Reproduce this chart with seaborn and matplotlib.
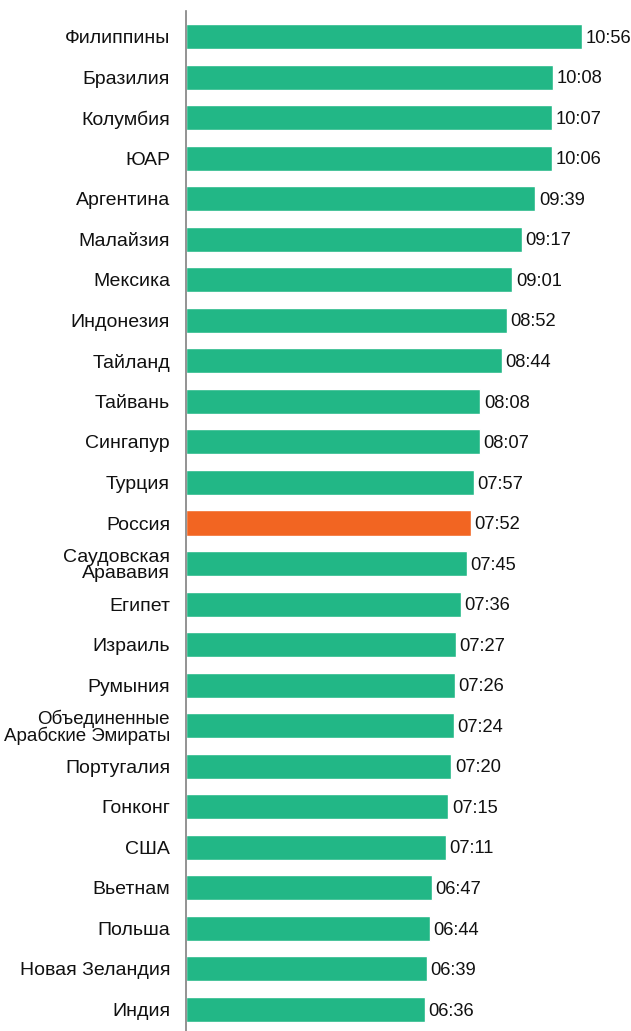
import matplotlib
matplotlib.use("Agg")
import matplotlib.pyplot as plt
import seaborn as sns
import pandas as pd

countries = ["Филиппины", "Бразилия", "Колумбия", "ЮАР", "Аргентина", "Малайзия",
             "Мексика", "Индонезия", "Тайланд", "Тайвань", "Сингапур", "Турция",
             "Россия", "Саудовская\nАрававия", "Египет", "Израиль", "Румыния",
             "Объединенные\nАрабские Эмираты", "Португалия", "Гонконг", "США",
             "Вьетнам", "Польша", "Новая Зеландия", "Индия"]
times = ["10:56", "10:08", "10:07", "10:06", "09:39", "09:17", "09:01", "08:52",
         "08:44", "08:08", "08:07", "07:57", "07:52", "07:45", "07:36", "07:27",
         "07:26", "07:24", "07:20", "07:15", "07:11", "06:47", "06:44", "06:39",
         "06:36"]
highlight = "Россия"

green = "#22b786"
orange = "#f26522"

minutes = [int(t.split(":")[0]) * 60 + int(t.split(":")[1]) for t in times]
df = pd.DataFrame({"country": countries, "minutes": minutes, "label": times})
palette = {c: (orange if c == highlight else green) for c in countries}

sns.set_style("white")
plt.rcParams["font.family"] = ["Liberation Sans", "DejaVu Sans"]

fig = plt.figure(figsize=(6.31, 10.31), dpi=100)
ax = fig.add_axes([186 / 631, 0.0, 1 - 186 / 631, (1031 - 11) / 1031])

sns.barplot(data=df, x="minutes", y="country", hue="country", palette=palette,
            orient="h", width=0.617, legend=False, saturation=1, ax=ax)

for i, (m, lab) in enumerate(zip(minutes, times)):
    ax.text(m + 6, i + 0.04, lab, va="center", ha="left", fontsize=13.2, color="#111111")

ax.set_xlim(0, 737.7)
ax.set_ylim(24.53, -0.629)
ax.set_xlabel("")
ax.set_ylabel("")
ax.set_xticks([])
ax.tick_params(axis="y", length=0, pad=11.5, labelsize=14, labelcolor="#111111")
for t in ax.get_yticklabels():
    if "\n" in t.get_text():
        t.set_linespacing(0.95)
    if "Эмираты" in t.get_text():
        t.set_fontsize(13.5)

for s in ["top", "right", "bottom"]:
    ax.spines[s].set_visible(False)
ax.spines["left"].set_color("#808080")
ax.spines["left"].set_linewidth(1.2)

plt.savefig("out.png", dpi=100)
